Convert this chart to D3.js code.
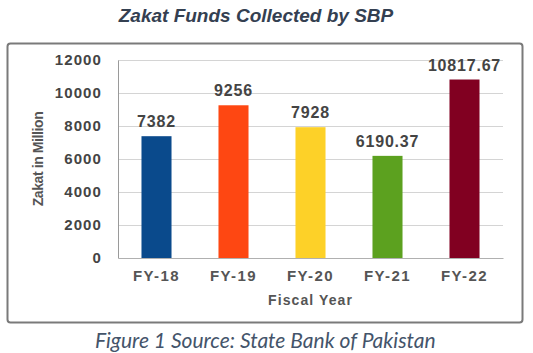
<!DOCTYPE html>
<html>
<head>
<meta charset="utf-8">
<script src="https://cdn.jsdelivr.net/npm/d3@7"></script>
<style>
  body { margin: 0; background: #fff; }
  svg text { font-family: "Liberation Sans", Arial, sans-serif; }
</style>
</head>
<body>
<div id="chart"></div>
<script>
var years = ["FY-18", "FY-19", "FY-20", "FY-21", "FY-22"];
var zakat = [7382, 9256, 7928, 6190.37, 10817.67];
var valueLabels = ["7382", "9256", "7928", "6190.37", "10817.67"];
var barColors = ["#0a4a8c", "#fe4712", "#fdd128", "#5ca11f", "#810021"];
var yTicks = [0, 2000, 4000, 6000, 8000, 10000, 12000];

var W = 533, H = 353;
var plot = { left: 118, right: 503, top: 60, bottom: 258 };
var sans = "'Liberation Sans', Arial, sans-serif";

var svg = d3.select("#chart")
  .append("svg")
  .attr("width", W)
  .attr("height", H);

// title
svg.append("text")
  .attr("x", 256)
  .attr("y", 22)
  .attr("text-anchor", "middle")
  .style("font-family", sans)
  .style("font-size", "19px")
  .style("font-weight", "bold")
  .style("font-style", "italic")
  .attr("fill", "#344051")
  .text("Zakat Funds Collected by SBP");

// outer box
svg.append("rect")
  .attr("x", 7.5)
  .attr("y", 43.5)
  .attr("width", 515)
  .attr("height", 279)
  .attr("rx", 3)
  .attr("fill", "#fff")
  .attr("stroke", "#7a7a7a")
  .attr("stroke-width", 2);

var x = d3.scaleBand()
  .domain(years)
  .range([plot.left, plot.right])
  .paddingInner(0.61)
  .paddingOuter(0.305);

var y = d3.scaleLinear()
  .domain([0, 12000])
  .range([plot.bottom, plot.top]);

// gridlines
svg.append("g")
  .selectAll("line")
  .data(yTicks.slice(1))
  .enter()
  .append("line")
  .attr("x1", plot.left)
  .attr("x2", plot.right)
  .attr("y1", function (d) { return Math.round(y(d)) + 0.5; })
  .attr("y2", function (d) { return Math.round(y(d)) + 0.5; })
  .attr("stroke", "#d4d4d4")
  .attr("stroke-width", 1);

// y axis
var yAxis = svg.append("g")
  .attr("transform", "translate(" + plot.left + ",0)")
  .call(d3.axisLeft(y).tickValues(yTicks).tickFormat(d3.format("d")).tickSize(0).tickPadding(16));
yAxis.select(".domain").attr("stroke", "#9a9a9a");
yAxis.selectAll("text")
  .style("font-family", sans)
  .style("font-size", "15px")
  .style("font-weight", "bold")
  .style("letter-spacing", "1.1px")
  .attr("fill", "#444");

// bars
svg.append("g")
  .selectAll("rect")
  .data(zakat)
  .enter()
  .append("rect")
  .attr("x", function (d, i) { return x(years[i]); })
  .attr("y", function (d) { return y(d); })
  .attr("width", x.bandwidth())
  .attr("height", function (d) { return y(0) - y(d); })
  .attr("fill", function (d, i) { return barColors[i]; });

// value labels
svg.append("g")
  .selectAll("text")
  .data(zakat)
  .enter()
  .append("text")
  .attr("x", function (d, i) { return x(years[i]) + x.bandwidth() / 2; })
  .attr("y", function (d) { return y(d) - 9; })
  .attr("text-anchor", "middle")
  .style("font-family", sans)
  .style("font-size", "16px")
  .style("font-weight", "bold")
  .style("letter-spacing", "0.8px")
  .attr("fill", "#444")
  .text(function (d, i) { return valueLabels[i]; });

// x axis
var xAxis = svg.append("g")
  .attr("transform", "translate(0," + plot.bottom + ")")
  .call(d3.axisBottom(x).tickSize(0).tickPadding(12));
xAxis.select(".domain").attr("stroke", "#b0b0b0");
xAxis.selectAll("text")
  .style("font-family", sans)
  .style("font-size", "15px")
  .style("font-weight", "bold")
  .style("letter-spacing", "1.4px")
  .attr("fill", "#555");

// axis titles
svg.append("text")
  .attr("x", (plot.left + plot.right) / 2)
  .attr("y", 305)
  .attr("text-anchor", "middle")
  .style("font-family", sans)
  .style("font-size", "14px")
  .style("font-weight", "bold")
  .style("letter-spacing", "1.1px")
  .attr("fill", "#555")
  .text("Fiscal Year");

svg.append("text")
  .attr("transform", "translate(43,159) rotate(-90)")
  .attr("text-anchor", "middle")
  .style("font-family", sans)
  .style("font-size", "14px")
  .style("font-weight", "bold")
  .style("letter-spacing", "-0.4px")
  .attr("fill", "#555")
  .text("Zakat in Million");

// caption
svg.append("text")
  .attr("x", 95)
  .attr("y", 348)
  .style("font-family", "Lato, sans-serif")
  .style("font-size", "21px")
  .style("font-style", "italic")
  .attr("fill", "#44546a")
  .text("Figure 1 Source: State Bank of Pakistan");
</script>
</body>
</html>
